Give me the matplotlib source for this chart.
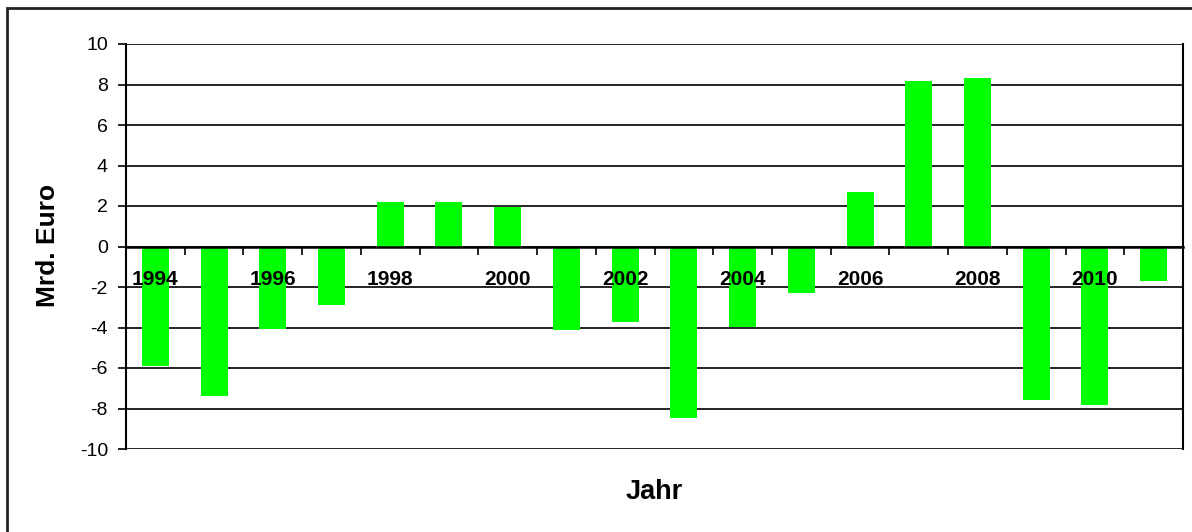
import matplotlib
matplotlib.use("Agg")
import matplotlib.pyplot as plt
from matplotlib.patches import Rectangle
import numpy as np

years = list(range(1994, 2012))
values = [-5.9, -7.38, -4.06, -2.89, 2.2, 2.2, 1.95, -4.14, -3.71, -8.47,
          -3.98, -2.30, 2.68, 8.17, 8.34, -7.56, -7.81, -1.72]
label_years = [1994, 1996, 1998, 2000, 2002, 2004, 2006, 2008, 2010]
yticks = list(range(-10, 11, 2))

plt.rcParams['font.family'] = ['Liberation Sans', 'DejaVu Sans']

fig = plt.figure(figsize=(11.92, 5.32), dpi=100)
ax = fig.add_axes([126/1192, 1-449/532, (1183-126)/1192, (449-44)/532])

x = np.arange(len(years))
ax.bar(x, values, width=0.46, color='#00FF00', zorder=3)

ax.set_xlim(-0.5, len(years)-0.5)
ax.set_ylim(-10, 10)
ax.set_yticks(yticks)
ax.set_yticklabels([str(t) for t in yticks], fontsize=14)
ax.yaxis.grid(True, color='black', linewidth=1.2, zorder=1)
ax.set_axisbelow(True)
ax.tick_params(axis='y', direction='out', length=6, width=1.2, pad=7, colors='black')

ax.spines['top'].set_visible(False)
ax.spines['right'].set_linewidth(1.5)
ax.spines['left'].set_linewidth(1.5)
ax.spines['bottom'].set_position(('data', 0))
ax.spines['bottom'].set_linewidth(1.8)
ax.spines['bottom'].set_zorder(4)
ax.set_xticks(np.arange(-0.5, len(years), 1.0))
ax.set_xticklabels([])
ax.tick_params(axis='x', direction='out', length=6, width=1.2)

for yr in label_years:
    i = years.index(yr)
    ax.text(i, -1.65, str(yr), ha='center', va='center', fontsize=15,
            fontweight='bold', zorder=5)

fig.text(48/1192, 1-245/532, 'Mrd. Euro', rotation=90, ha='center', va='center',
         fontsize=19, fontweight='bold')
fig.text(654/1192, 1-492/532, 'Jahr', ha='center', va='center',
         fontsize=19.5, fontweight='bold')

fig.patches.append(Rectangle((7/1192, -0.2), 1.2, 1.2 - 8/532, transform=fig.transFigure,
                             fill=False, edgecolor='#222222', linewidth=2))

fig.savefig('out.png', dpi=100)
